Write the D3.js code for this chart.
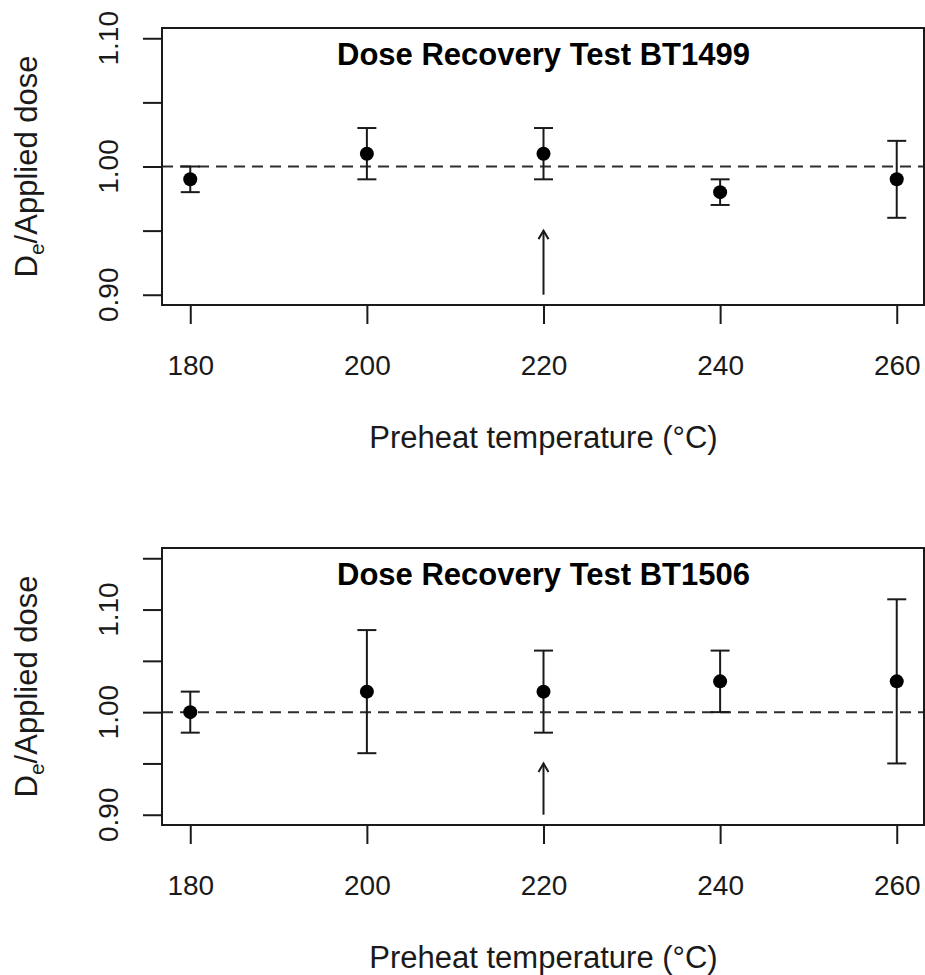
<!DOCTYPE html>
<html>
<head>
<meta charset="utf-8">
<script src="https://cdn.jsdelivr.net/npm/d3@7"></script>
<style>
  html, body { margin: 0; padding: 0; background: #fff; }
  svg { display: block; font-family: Arial, "Liberation Sans", Helvetica, sans-serif; }
</style>
</head>
<body>
<svg id="chart" width="925" height="975"></svg>
<script>
// Preheat temperatures (°C)
const temperatures = [180, 200, 220, 240, 260];

// BT1499: De / applied dose ratio with lower and upper error limits
const bt1499Ratio = [0.99, 1.01, 1.01, 0.98, 0.99];
const bt1499Low   = [0.98, 0.99, 0.99, 0.97, 0.96];
const bt1499High  = [1.00, 1.03, 1.03, 0.99, 1.02];

// BT1506: De / applied dose ratio with lower and upper error limits
const bt1506Ratio = [1.00, 1.02, 1.02, 1.03, 1.03];
const bt1506Low   = [0.98, 0.96, 0.98, 1.00, 0.95];
const bt1506High  = [1.02, 1.08, 1.06, 1.06, 1.11];

// Axis ticks
const xTicks = [180, 200, 220, 240, 260];
const yTicksTop = [0.90, 0.95, 1.00, 1.05, 1.10];
const yTicksBottom = [0.90, 0.95, 1.00, 1.05, 1.10, 1.15];
const yLabelled = [0.90, 1.00, 1.10];

// Chosen preheat temperature, marked with an arrow
const arrowTemp = 220;
const arrowFrom = 0.90;
const arrowTo = 0.95;
const referenceRatio = 1.00;

const panels = [
  { title: "Dose Recovery Test BT1499", ratio: bt1499Ratio, low: bt1499Low, high: bt1499High,
    yDomain: [0.892, 1.108], yTicks: yTicksTop, top: 28 },
  { title: "Dose Recovery Test BT1506", ratio: bt1506Ratio, low: bt1506Low, high: bt1506High,
    yDomain: [0.89, 1.16], yTicks: yTicksBottom, top: 548 }
];

const svg = d3.select("#chart");
const ink = "#1a1a1a";
const plotLeft = 162, plotRight = 925, plotHeight = 277;
const x = d3.scaleLinear().domain([176.8, 263.2]).range([plotLeft, plotRight]);

panels.forEach(p => {
  const g = svg.append("g").attr("transform", `translate(0,${p.top})`);
  const y = d3.scaleLinear().domain(p.yDomain).range([plotHeight, 0]);
  const rows = temperatures.map((t, i) => ({ t, v: p.ratio[i], lo: p.low[i], hi: p.high[i] }));

  // reference line at ratio 1
  g.append("line")
    .attr("x1", plotLeft).attr("x2", plotRight)
    .attr("y1", y(referenceRatio)).attr("y2", y(referenceRatio))
    .attr("stroke", "#2e2e2e").attr("stroke-width", 2)
    .attr("stroke-dasharray", "11,7");

  // x axis
  const xAxis = g.append("g")
    .attr("transform", `translate(0,${plotHeight})`)
    .call(d3.axisBottom(x).tickValues(xTicks).tickSize(19).tickPadding(31).tickFormat(d3.format("d")));
  xAxis.select(".domain").remove();
  xAxis.selectAll(".tick line").attr("stroke", ink).attr("stroke-width", 2);
  xAxis.selectAll(".tick text").attr("font-size", 28).attr("fill", ink).attr("font-family", null);

  // y axis
  const yAxis = g.append("g")
    .attr("transform", `translate(${plotLeft},0)`)
    .call(d3.axisLeft(y).tickValues(p.yTicks).tickSize(19).tickFormat(""));
  yAxis.select(".domain").remove();
  yAxis.selectAll(".tick line").attr("stroke", ink).attr("stroke-width", 2);

  g.selectAll(".ylab")
    .data(yLabelled)
    .join("text")
    .attr("class", "ylab")
    .attr("transform", d => `translate(118,${y(d)}) rotate(-90)`)
    .attr("text-anchor", "middle")
    .attr("font-size", 28)
    .attr("fill", ink)
    .text(d3.format(".2f"));

  // plot frame
  g.append("rect")
    .attr("x", plotLeft).attr("y", 0)
    .attr("width", plotRight - 1 - plotLeft).attr("height", plotHeight)
    .attr("fill", "none").attr("stroke", ink).attr("stroke-width", 2);

  // error bars
  const bars = g.selectAll(".err").data(rows).join("g").attr("class", "err")
    .attr("stroke", ink).attr("stroke-width", 2);
  bars.append("line")
    .attr("x1", d => x(d.t)).attr("x2", d => x(d.t))
    .attr("y1", d => y(d.lo)).attr("y2", d => y(d.hi));
  bars.append("line")
    .attr("x1", d => x(d.t) - 9.5).attr("x2", d => x(d.t) + 9.5)
    .attr("y1", d => y(d.lo)).attr("y2", d => y(d.lo));
  bars.append("line")
    .attr("x1", d => x(d.t) - 9.5).attr("x2", d => x(d.t) + 9.5)
    .attr("y1", d => y(d.hi)).attr("y2", d => y(d.hi));

  // points
  g.selectAll(".pt").data(rows).join("circle").attr("class", "pt")
    .attr("cx", d => x(d.t)).attr("cy", d => y(d.v)).attr("r", 7)
    .attr("fill", "#000");

  // arrow marking the selected preheat temperature
  const ax = x(arrowTemp), ay0 = y(arrowFrom), ay1 = y(arrowTo);
  g.append("line")
    .attr("x1", ax).attr("x2", ax).attr("y1", ay0).attr("y2", ay1)
    .attr("stroke", ink).attr("stroke-width", 2);
  g.append("path")
    .attr("d", `M${ax - 5},${ay1 + 8.5} L${ax},${ay1} L${ax + 5},${ay1 + 8.5}`)
    .attr("fill", "none").attr("stroke", ink).attr("stroke-width", 2);

  // title
  g.append("text")
    .attr("x", (plotLeft + plotRight) / 2).attr("y", 37)
    .attr("text-anchor", "middle")
    .attr("font-size", 31).attr("font-weight", "bold").attr("fill", "#000")
    .text(p.title);

  // x axis title
  g.append("text")
    .attr("x", (plotLeft + plotRight) / 2).attr("y", 420)
    .attr("text-anchor", "middle")
    .attr("font-size", 31).attr("fill", ink)
    .text("Preheat temperature (°C)");

  // y axis title
  const yt = g.append("text")
    .attr("transform", `translate(37,${plotHeight / 2}) rotate(-90)`)
    .attr("text-anchor", "middle")
    .attr("font-size", 31).attr("fill", ink);
  yt.append("tspan").text("D");
  yt.append("tspan").attr("font-size", 21).attr("dy", 7).text("e");
  yt.append("tspan").attr("dy", -7).text("/Applied dose");
});
</script>
</body>
</html>
